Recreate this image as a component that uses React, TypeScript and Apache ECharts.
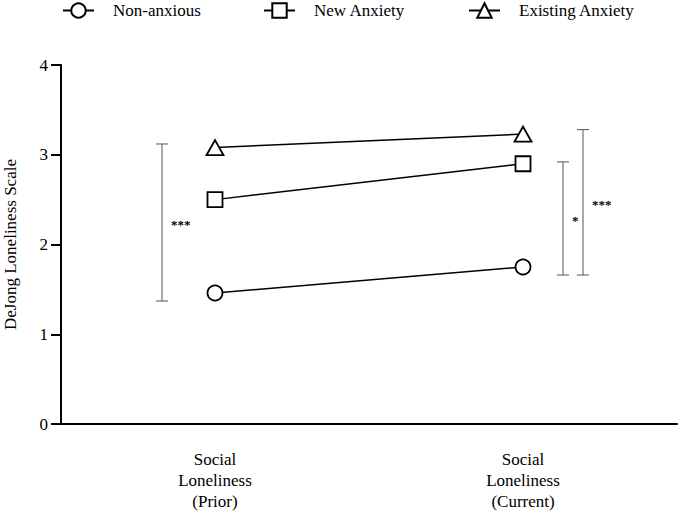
import React, { useEffect, useRef } from "react";
import * as echarts from "echarts";

const categories = ["Social\nLoneliness\n(Prior)", "Social\nLoneliness\n(Current)"];
const seriesNames = ["Non-anxious", "New Anxiety", "Existing Anxiety"];
const nonAnxious = [1.46, 1.75];
const newAnxiety = [2.5, 2.9];
const existingAnxiety = [3.08, 3.23];
const yTicks = [0, 1, 2, 3, 4];

const bracketCategory = [0, 1, 1];
const bracketLow = [1.37, 1.66, 1.66];
const bracketHigh = [3.12, 2.92, 3.28];
const bracketLabels = ["***", "*", "***"];

const FONT = "Liberation Serif";

export default function App() {
  const ref = useRef<HTMLDivElement>(null);
  useEffect(() => {
    if (!ref.current) return;
    const chart = echarts.init(ref.current, undefined, { renderer: "svg" });
    const bracketOffsets = [-53, 40, 60];
    const symbols = ["circle", "rect", "triangle"];
    const values = [nonAnxious, newAnxiety, existingAnxiety];
    const legendLefts = [62, 263, 468];

    chart.setOption({
      animation: false,
      backgroundColor: "#fff",
      textStyle: { fontFamily: FONT },
      legend: seriesNames.map((n, i) => ({
        data: [n],
        left: legendLefts[i],
        top: 2,
        padding: 0,
        itemWidth: 31,
        itemHeight: 18,
        selectedMode: false,
        textStyle: { fontSize: 17, fontFamily: FONT, color: "#000", padding: [0, 0, 0, 14] },
      })),
      grid: { left: 61, right: 1, top: 65, bottom: 88, containLabel: false, outerBoundsMode: "none" },
      xAxis: {
        type: "category",
        data: categories,
        boundaryGap: true,
        axisLine: { lineStyle: { color: "#000", width: 2 } },
        axisTick: { alignWithLabel: true, length: 10, lineStyle: { color: "#000", width: 2 } },
        axisLabel: { fontSize: 17, fontFamily: FONT, color: "#000", lineHeight: 21, margin: 25 },
        splitLine: { show: false },
      },
      yAxis: {
        type: "value",
        min: yTicks[0],
        max: yTicks[yTicks.length - 1],
        interval: 1,
        name: "DeJong Loneliness Scale",
        nameLocation: "middle",
        nameGap: 42,
        nameTextStyle: { fontSize: 17, fontFamily: FONT, color: "#000" },
        axisLine: { show: true, lineStyle: { color: "#000", width: 2 } },
        axisTick: { show: true, length: 10, lineStyle: { color: "#000", width: 2 } },
        axisLabel: { fontSize: 17, fontFamily: FONT, color: "#000", margin: 13 },
        splitLine: { show: false },
      },
      series: [
        ...seriesNames.map((n, i) => ({
          name: n,
          type: "line",
          data: values[i],
          symbol: symbols[i],
          symbolSize: i === 2 ? [17, 15] : 15,
          lineStyle: { color: "#000", width: 1.5 },
          itemStyle: { color: "#fff", borderColor: "#000", borderWidth: 1.8 },
          z: 3,
        })),
        {
          name: "brackets",
          type: "custom",
          data: bracketCategory.map((c, i) => [c, bracketLow[i], bracketHigh[i]]),
          renderItem: (params: any, api: any) => {
            const cat = api.value(0);
            const lo = api.coord([cat, api.value(1)]);
            const hi = api.coord([cat, api.value(2)]);
            const x = lo[0] + bracketOffsets[params.dataIndex];
            const stroke = { stroke: "#555", lineWidth: 1 };
            const cap = 6;
            return {
              type: "group",
              children: [
                { type: "line", shape: { x1: x, y1: hi[1], x2: x, y2: lo[1] }, style: stroke },
                { type: "line", shape: { x1: x - cap, y1: hi[1], x2: x + cap, y2: hi[1] }, style: stroke },
                { type: "line", shape: { x1: x - cap, y1: lo[1], x2: x + cap, y2: lo[1] }, style: stroke },
                {
                  type: "text",
                  x: x + 9,
                  y: (hi[1] + lo[1]) / 2 + 2,
                  style: {
                    text: bracketLabels[params.dataIndex],
                    fontSize: 13,
                    fontWeight: "bold",
                    fontFamily: FONT,
                    fill: "#000",
                    align: "left",
                    verticalAlign: "middle",
                  },
                },
              ],
            };
          },
          z: 2,
        },
      ],
    });
    return () => chart.dispose();
  }, []);
  return <div ref={ref} style={{ width: 678, height: 512, position: "absolute", left: 0, top: 0 }} />;
}
